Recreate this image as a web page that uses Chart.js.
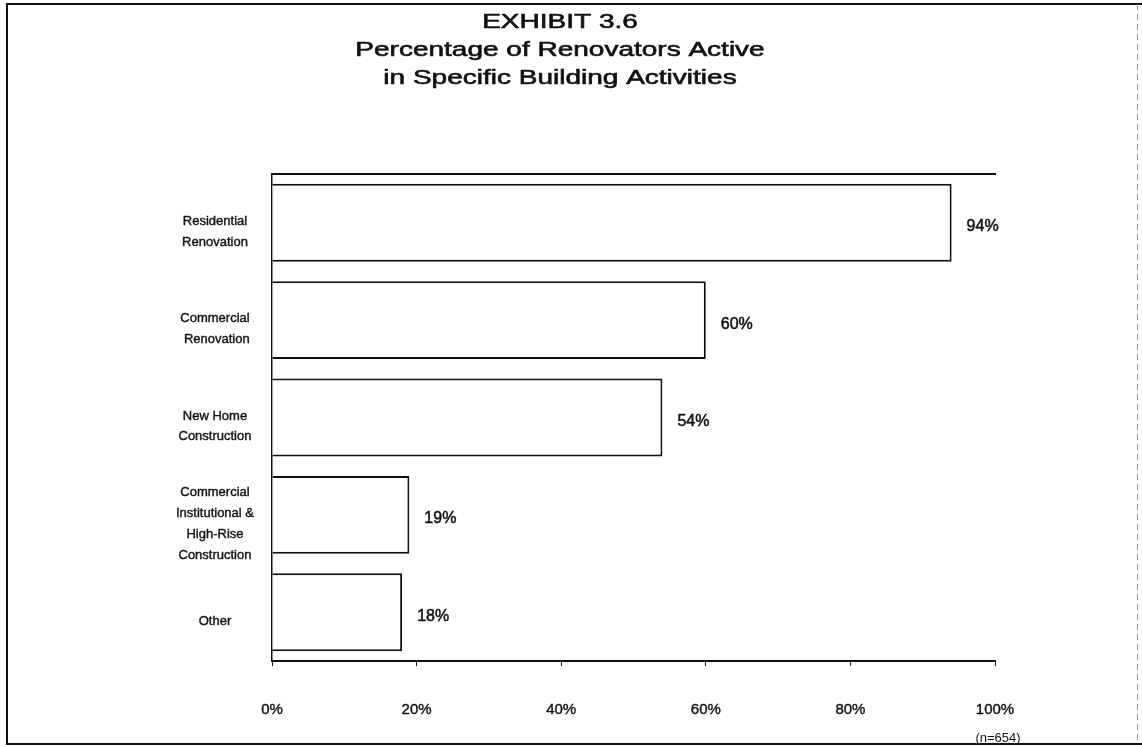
<!DOCTYPE html>
<html>
<head>
<meta charset="utf-8">
<title>Exhibit 3.6</title>
<script src="https://cdn.jsdelivr.net/npm/chart.js@4/dist/chart.umd.min.js"></script>
<style>
    html, body { margin: 0; padding: 0; background: #fff; }
    #wrap { width: 1142px; height: 747px; position: relative; }
</style>
</head>
<body>
<div id="wrap"><canvas id="chart"></canvas></div>
<script>
// Building activities and share of renovators active in each (n=654)
const activities = [
    ['Residential', 'Renovation'],
    ['Commercial', ' Renovation'],
    ['New Home', 'Construction'],
    ['Commercial', 'Institutional &', 'High-Rise', 'Construction'],
    'Other'
];
const percentActive = [94, 60, 54, 19, 18];
const axisTicks = [0, 20, 40, 60, 80, 100];
const titleLines = ['EXHIBIT 3.6', 'Percentage of Renovators Active', 'in Specific Building Activities'];
const sampleNote = '(n=654)';

const FONT = '"Liberation Sans", Arial, Helvetica, sans-serif';
Chart.defaults.font.family = FONT;
Chart.defaults.color = '#111';

// Page frame around the exhibit
const framePlugin = {
    id: 'frame',
    beforeDraw(chart) {
        const ctx = chart.ctx;
        ctx.save();
        ctx.fillStyle = '#fff';
        ctx.fillRect(0, 0, chart.width, chart.height);
        ctx.strokeStyle = '#111';
        ctx.lineWidth = 2;
        ctx.beginPath();
        ctx.moveTo(chart.width, 4);
        ctx.lineTo(7, 4);
        ctx.lineTo(7, 744);
        ctx.lineTo(chart.width, 744);
        ctx.stroke();
        ctx.strokeStyle = '#999';
        ctx.lineWidth = 1;
        ctx.setLineDash([6, 4]);
        ctx.beginPath();
        ctx.moveTo(1137.5, 4);
        ctx.lineTo(1137.5, 744);
        ctx.stroke();
        ctx.restore();
    }
};

// Exhibit heading, set in a wide typeface (drawn horizontally stretched)
const headingPlugin = {
    id: 'heading',
    afterDraw(chart) {
        const ctx = chart.ctx;
        const stretch = 1.4;
        const cx = 560;
        ctx.save();
        ctx.fillStyle = '#111';
        ctx.strokeStyle = '#111';
        ctx.lineWidth = 0.6;
        ctx.font = '20px ' + FONT;
        ctx.textAlign = 'center';
        ctx.textBaseline = 'alphabetic';
        ctx.translate(cx, 0);
        ctx.scale(stretch, 1);
        titleLines.forEach((line, i) => {
            ctx.fillText(line, 0, 28 + i * 28);
            ctx.strokeText(line, 0, 28 + i * 28);
        });
        ctx.restore();
    }
};

// Percent label to the right of each bar, plus the sample size note
const valueLabels = {
    id: 'valueLabels',
    afterDatasetsDraw(chart) {
        const ctx = chart.ctx;
        const meta = chart.getDatasetMeta(0);
        ctx.save();
        ctx.fillStyle = '#111';
        ctx.strokeStyle = '#111';
        ctx.lineWidth = 0.5;
        ctx.font = '16px ' + FONT;
        ctx.textAlign = 'left';
        ctx.textBaseline = 'middle';
        meta.data.forEach((bar, i) => {
            const label = percentActive[i] + '%';
            ctx.fillText(label, bar.x + 15, bar.y + 4);
            ctx.strokeText(label, bar.x + 15, bar.y + 4);
        });
        const x = chart.scales.x;
        ctx.font = '13px ' + FONT;
        ctx.textAlign = 'center';
        ctx.fillText(sampleNote, x.getPixelForValue(100) + 3, 738);
        ctx.restore();
    }
};

const ctx = document.getElementById('chart').getContext('2d');
new Chart(ctx, {
    type: 'bar',
    data: {
        labels: activities,
        datasets: [{
            data: percentActive,
            backgroundColor: '#fff',
            borderColor: '#111',
            borderWidth: 2,
            borderSkipped: 'start',
            barPercentage: 0.8,
            categoryPercentage: 1.0
        }]
    },
    options: {
        indexAxis: 'y',
        responsive: true,
        maintainAspectRatio: false,
        animation: false,
        layout: {
            padding: { left: 125, right: 147, top: 174, bottom: 0 }
        },
        scales: {
            x: {
                min: 0,
                max: 100,
                afterBuildTicks: (scale) => {
                    scale.ticks = axisTicks.map(v => ({ value: v }));
                },
                afterFit: (scale) => { scale.height = 86; },
                ticks: {
                    callback: (v) => v + '%',
                    font: { size: 15 },
                    padding: 35,
                    textStrokeColor: '#111',
                    textStrokeWidth: 0.4
                },
                grid: {
                    drawOnChartArea: false,
                    drawTicks: true,
                    tickLength: 5,
                    color: '#111',
                    lineWidth: 1
                },
                border: { display: true, color: '#111', width: 2 }
            },
            xTop: {
                type: 'linear',
                position: 'top',
                min: 0,
                max: 100,
                ticks: { display: false },
                grid: { display: false, drawTicks: false },
                border: { display: true, color: '#111', width: 2 },
                afterFit: (scale) => { scale.height = 0; }
            },
            y: {
                offset: true,
                afterFit: (scale) => { scale.width = 147; },
                ticks: {
                    crossAlign: 'center',
                    padding: 18,
                    labelOffset: 9,
                    font: { size: 13, lineHeight: 1.6 },
                    textStrokeColor: '#111',
                    textStrokeWidth: 0.4
                },
                grid: { display: false, drawTicks: false },
                border: { display: true, color: '#111', width: 1.5, dash: [2, 3] }
            }
        },
        plugins: {
            legend: { display: false },
            tooltip: { enabled: false },
            title: { display: false }
        }
    },
    plugins: [framePlugin, headingPlugin, valueLabels]
});
</script>
</body>
</html>
